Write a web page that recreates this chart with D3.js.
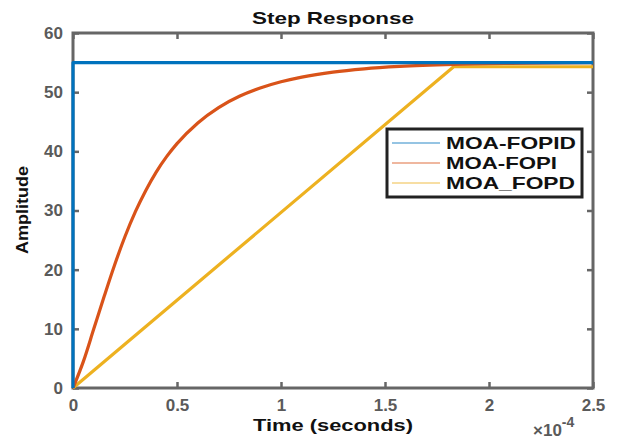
<!DOCTYPE html>
<html>
<head>
<meta charset="utf-8">
<script src="https://cdn.jsdelivr.net/npm/d3@7"></script>
<style>
  html, body { margin: 0; padding: 0; background: #fff; }
  svg { display: block; font-family: "Liberation Sans", Arial, sans-serif; }
</style>
</head>
<body>
<svg id="chart" width="621" height="440"></svg>
<script>
// ---- data (time in units of 1e-4 s) ----
const titleText = "Step Response";
const xLabel = "Time (seconds)";
const yLabel = "Amplitude";
const xTicks = [0, 0.5, 1, 1.5, 2, 2.5];
const xTickLabels = ["0", "0.5", "1", "1.5", "2", "2.5"];
const yTicks = [0, 10, 20, 30, 40, 50, 60];
const seriesNames = ["MOA-FOPID", "MOA-FOPI", "MOA_FOPD"];
const seriesColors = ["#0072BD", "#D95319", "#EDB120"];

const fopidT = [0, 0, 2.5];
const fopidY = [0, 55, 55];

const fopiT = [0, 0.05, 0.1, 0.15, 0.2, 0.25, 0.3, 0.35, 0.4, 0.45, 0.5, 0.6, 0.7, 0.8, 0.9, 1.0, 1.1, 1.25, 1.4, 1.57, 1.83, 2.1, 2.5];
const fopiY = [0, 4.5, 10, 15.5, 20.8, 25.6, 29.8, 33.4, 36.5, 39.1, 41.3, 44.8, 47.4, 49.3, 50.7, 51.75, 52.55, 53.4, 53.95, 54.35, 54.7, 54.88, 55];

const fopdT = [0, 1.83, 2.5];
const fopdY = [0, 54.3, 54.3];

// ---- layout ----
const svg = d3.select("#chart");
const L = 73, R = 593, T = 33, B = 388;
const x = d3.scaleLinear().domain([0, 2.5]).range([L, R]);
const y = d3.scaleLinear().domain([0, 60]).range([B, T]);
const axisColor = "#666666";
const tickColor = "#5a5a5a";

// axes via d3
const gx = svg.append("g").attr("transform", `translate(0,${B})`)
  .call(d3.axisBottom(x).tickValues(xTicks).tickFormat((d, i) => xTickLabels[i]).tickSizeInner(-6).tickSizeOuter(0).tickPadding(11));
const gy = svg.append("g").attr("transform", `translate(${L},0)`)
  .call(d3.axisLeft(y).tickValues(yTicks).tickSizeInner(-6).tickSizeOuter(0).tickPadding(10));
const gxt = svg.append("g").attr("transform", `translate(0,${T})`)
  .call(d3.axisTop(x).tickValues(xTicks).tickFormat("").tickSizeInner(-6).tickSizeOuter(0));
const gyr = svg.append("g").attr("transform", `translate(${R},0)`)
  .call(d3.axisRight(y).tickValues(yTicks).tickFormat("").tickSizeInner(-6).tickSizeOuter(0));

[gx, gy, gxt, gyr].forEach(g => {
  g.select(".domain").remove();
  g.selectAll(".tick line").attr("stroke", axisColor).attr("stroke-width", 2.5);
  g.selectAll(".tick text").attr("fill", tickColor).attr("font-size", 17).attr("font-weight", "bold");
});

// box
svg.append("rect").attr("x", L).attr("y", T).attr("width", R - L).attr("height", B - T)
  .attr("fill", "none").attr("stroke", axisColor).attr("stroke-width", 3);

// lines
const straight = d3.line().x(d => x(d[0])).y(d => y(d[1]));
const smooth = d3.line().x(d => x(d[0])).y(d => y(d[1])).curve(d3.curveMonotoneX);
const series = [d3.zip(fopidT, fopidY), d3.zip(fopiT, fopiY), d3.zip(fopdT, fopdY)];
const lineGen = [straight, smooth, straight];
[2, 1, 0].forEach(i => {
  svg.append("path").datum(series[i]).attr("d", lineGen[i])
    .attr("fill", "none").attr("stroke", seriesColors[i]).attr("stroke-width", 3.2)
    .attr("stroke-linejoin", "round");
});

// title & labels
svg.append("text").attr("x", 333).attr("y", 24).attr("text-anchor", "middle")
  .attr("font-size", 17).attr("font-weight", "bold").attr("fill", "#111")
  .attr("textLength", 162).attr("lengthAdjust", "spacingAndGlyphs").text(titleText);
svg.append("text").attr("x", 333).attr("y", 431).attr("text-anchor", "middle")
  .attr("font-size", 17).attr("font-weight", "bold").attr("fill", "#111")
  .attr("textLength", 160).attr("lengthAdjust", "spacingAndGlyphs").text(xLabel);
svg.append("text").attr("transform", "translate(28,210) rotate(-90)").attr("text-anchor", "middle")
  .attr("font-size", 17).attr("font-weight", "bold").attr("fill", "#111")
  .attr("textLength", 88).attr("lengthAdjust", "spacingAndGlyphs").text(yLabel);

// exponent
const ex = svg.append("text").attr("x", 533).attr("y", 436).attr("fill", tickColor)
  .attr("font-size", 17).attr("font-weight", "bold");
ex.append("tspan").text("\u00d710");
ex.append("tspan").attr("dy", -9).attr("font-size", 14).text("-4");

// legend
const lg = svg.append("g");
lg.append("rect").attr("x", 387).attr("y", 129).attr("width", 195).attr("height", 68)
  .attr("fill", "#fff").attr("stroke", "#222").attr("stroke-width", 3);
const rowY = [143, 163, 183];
seriesNames.forEach((n, i) => {
  lg.append("line").attr("x1", 392).attr("x2", 440).attr("y1", rowY[i]).attr("y2", rowY[i])
    .attr("stroke", seriesColors[i]).attr("stroke-width", 1.3).attr("opacity", 0.55);
  lg.append("text").attr("x", 446).attr("y", rowY[i] + 6).attr("font-size", 17)
    .attr("font-weight", "bold").attr("fill", "#111")
    .attr("textLength", [130, 111, 129][i]).attr("lengthAdjust", "spacingAndGlyphs").text(n);
});
</script>
</body>
</html>
